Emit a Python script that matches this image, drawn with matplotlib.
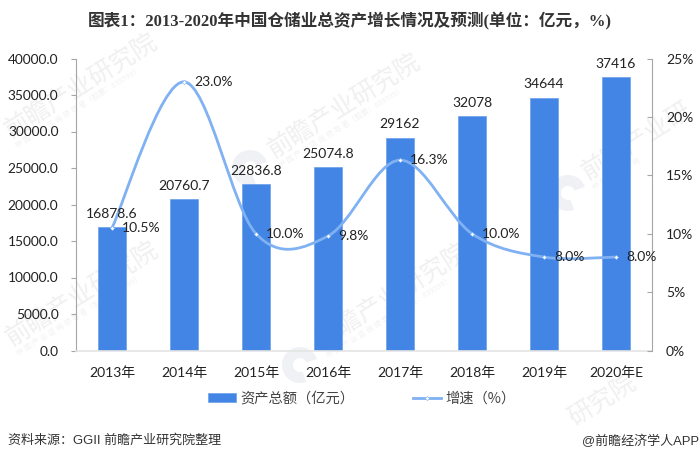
import matplotlib
matplotlib.use("Agg")
import matplotlib.pyplot as plt
from matplotlib.lines import Line2D
from matplotlib.patches import Patch, PathPatch, Wedge
from matplotlib.path import Path

CJK = "Noto Sans CJK SC"
LATIN = "Lato"
plt.rcParams['font.family'] = [LATIN, CJK, 'DejaVu Sans']

years = ["2013年", "2014年", "2015年", "2016年", "2017年", "2018年", "2019年", "2020年E"]
assets = [16878.6, 20760.7, 22836.8, 25074.8, 29162, 32078, 34644, 37416]
growth = [10.5, 23.0, 10.0, 9.8, 16.3, 10.0, 8.0, 8.0]
left_ticks = [0, 5000, 10000, 15000, 20000, 25000, 30000, 35000, 40000]
right_ticks = [0, 5, 10, 15, 20, 25]

BAR_BLUE = '#4285e4'
LINE_BLUE = '#7fb1f3'
TEXT = '#222222'
W, H = 700, 462


def smooth_path(xs, ys):
    # same kind of bezier smoothing a spreadsheet applies to a line series
    verts = [(xs[0], ys[0])]
    codes = [Path.MOVETO]
    n = len(xs)
    for i in range(n - 1):
        i0, i2, i3 = max(i - 1, 0), i + 1, min(i + 2, n - 1)
        verts.append((xs[i] + (xs[i2] - xs[i0]) / 6, ys[i] + (ys[i2] - ys[i0]) / 6))
        verts.append((xs[i2] - (xs[i3] - xs[i]) / 6, ys[i2] - (ys[i3] - ys[i]) / 6))
        verts.append((xs[i2], ys[i2]))
        codes += [Path.CURVE4] * 3
    return Path(verts, codes)


def watermark(bg, x, y, main="前瞻产业研究院", sub="中 国 产 业 咨 询 领 导 者（股票：839599）"):
    bg.text(x, y, main, family=[CJK], fontsize=18, color='#f0f0f0', rotation=32,
            ha='left', va='center', rotation_mode='anchor')
    if sub:
        bg.text(x + 9, y + 14, sub, family=[CJK], fontsize=5.5, color='#f2f2f2', rotation=32,
                ha='left', va='center', rotation_mode='anchor')


def logo(bg, x, y):
    bg.add_patch(Wedge((x, y), 18, 70, 340, width=11, facecolor='#eff1f5', edgecolor='none'))


fig = plt.figure(figsize=(W / 100, H / 100), dpi=100)

# faint background stamps, laid out in pixels
bg = fig.add_axes([0, 0, 1, 1], zorder=0)
bg.set_xlim(0, W)
bg.set_ylim(H, 0)
bg.axis('off')
watermark(bg, 7, 132)
watermark(bg, 8, 340)
watermark(bg, 270, 152)
watermark(bg, 318, 342)
watermark(bg, 584, 174, main="前瞻产业研", sub="中 国 产 业 咨 询")
watermark(bg, 570, 420, main="研究院", sub="")
for lx, ly in [(250, 168), (300, 365), (568, 193)]:
    logo(bg, lx, ly)

ax = fig.add_axes([76 / W, 1 - 350.5 / H, 576 / W, 292 / H], zorder=1)
ax.patch.set_alpha(0)
x = list(range(len(years)))
ax.bar(x, assets, width=0.38, color=BAR_BLUE, edgecolor='#6a9fea', linewidth=0.5, zorder=2)
ax.set_xlim(-0.5, len(years) - 0.5)
ax.set_ylim(0, 40000)
ax.set_yticks(left_ticks)
ax.set_yticklabels([f"{v:.1f}" for v in left_ticks])
ax.set_xticks(x)
ax.set_xticklabels(years)
ax.tick_params(axis='y', direction='out', length=3.6, width=0.8, color='#a6a6a6', pad=9,
               labelsize=9.9, labelcolor=TEXT)
ax.tick_params(axis='x', length=0, pad=11, labelsize=10, labelcolor=TEXT)
for name in ['top', 'right']:
    ax.spines[name].set_visible(False)
ax.spines['left'].set_color('#a6a6a6')
ax.spines['bottom'].set_color('#e4e4e4')
ax.spines['bottom'].set_linewidth(1.2)

ax2 = ax.twinx()
ax2.set_zorder(2)
ax2.patch.set_alpha(0)
ax2.set_ylim(0, 25)
ax2.set_yticks(right_ticks)
ax2.set_yticklabels([f"{v}%" for v in right_ticks])
ax2.tick_params(axis='y', direction='in', length=3.6, width=0.8, color='#a6a6a6', pad=10,
                labelsize=10, labelcolor=TEXT)
for name in ['top', 'left', 'bottom']:
    ax2.spines[name].set_visible(False)
ax2.spines['right'].set_color('#a6a6a6')

ax2.add_patch(PathPatch(smooth_path(x, growth), fill=False, edgecolor=LINE_BLUE, linewidth=2.0,
                        zorder=3, capstyle='round'))
ax2.plot(x, growth, linestyle='none', marker='D', markersize=2.2, markerfacecolor='white',
         markeredgecolor=LINE_BLUE, markeredgewidth=0.4, zorder=4)

# labels go on the top axes so the line stays behind them
for xi, v in zip(x, assets):
    ax2.annotate(f"{v:g}", (xi, v), xycoords=ax.transData, xytext=(0, 5.2),
                 textcoords='offset points', ha='center', va='bottom', fontsize=10,
                 color=TEXT, zorder=6)
for xi, v in zip(x, growth):
    ax2.annotate(f"{v:.1f}%", (xi, v), xytext=(7.2, 0), textcoords='offset points', ha='left',
                 va='center', fontsize=10, color=TEXT, zorder=6)

handles = [
    Patch(facecolor=BAR_BLUE, edgecolor='#6a9fea', linewidth=0.5),
    Line2D([0], [0], color=LINE_BLUE, linewidth=2.0, marker='D', markersize=2.2,
           markerfacecolor='white', markeredgewidth=0.4),
]
fig.legend(handles, ["资产总额（亿元）", "增速（%）"], loc='center', ncol=2, frameon=False,
           bbox_to_anchor=(361.5 / W, 1 - 398.5 / H), labelcolor='#444444',
           handlelength=1.95, handleheight=0.65, handletextpad=0.3, columnspacing=4.1,
           prop={'family': [CJK], 'size': 10.3})

fig.text(349.5 / W, 1 - 21 / H, "图表1：2013-2020年中国仓储业总资产增长情况及预测(单位：亿元，%)",
         family=['Liberation Serif', CJK], weight='bold', fontsize=12, color='#333333',
         ha='center', va='center')
fig.text(8 / W, 1 - 441 / H, "资料来源：GGII 前瞻产业研究院整理", family=['Liberation Sans', CJK],
         fontsize=9.4, color='#333333', ha='left', va='center')
fig.text(699 / W, 1 - 441 / H, "@前瞻经济学人APP", family=['Liberation Sans', CJK],
         fontsize=9.4, color='#333333', ha='right', va='center')

fig.savefig("out.png", dpi=100)
